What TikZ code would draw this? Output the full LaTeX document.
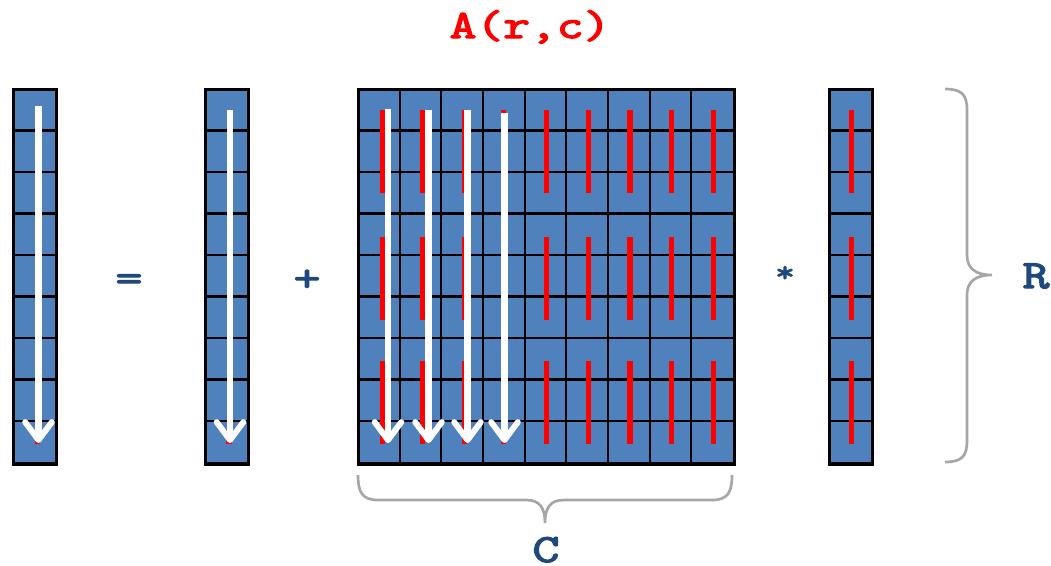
\documentclass[tikz,border=0pt]{standalone}
\usepackage{fontspec}
\newfontfamily\labfont[FakeBold=3]{Latin Modern Mono}
\newcommand{\lab}[1]{\scalebox{1.3}[1]{\labfont\bfseries #1}}
\usetikzlibrary{arrows.meta}
\definecolor{cellblue}{HTML}{4F81BD}
\definecolor{navy}{HTML}{1F497D}
\definecolor{bracegray}{HTML}{A6A6A6}
\begin{document}
\begin{tikzpicture}[x=0.75pt,y=-0.75pt,
  block/.style={draw=black,fill=cellblue,line width=1.5pt,anchor=north west,inner sep=0pt},
  gridline/.style={draw=black,line width=1.6pt},
  redseg/.style={draw=red,line width=3.8pt},
  warrow/.style={draw=white,line width=4.6pt,-{Straight Barb[length=13.5pt,width=20pt,line width=4.4pt,round]}},
  brace/.style={draw=bracegray,line width=2pt},
  lbl/.style={font=\fontsize{30}{30}\selectfont,text=navy,inner sep=0pt}]
\useasboundingbox (0,0) rectangle (1051,565);
% blocks
\node[block,minimum width=31.5pt,minimum height=280.1pt] (y1) at (13,89) {};
\node[block,minimum width=31.5pt,minimum height=280.1pt] (y2) at (205,89) {};
\node[block,minimum width=281.25pt,minimum height=280.1pt] (A) at (358,89) {};
\node[block,minimum width=31.5pt,minimum height=280.1pt] (x) at (829,89) {};
% grid lines
\foreach \r in {1,...,8}{
  \draw[gridline] ([yshift=-\r*31.12pt]y1.north west) -- ([yshift=-\r*31.12pt]y1.north east);
  \draw[gridline] ([yshift=-\r*31.12pt]y2.north west) -- ([yshift=-\r*31.12pt]y2.north east);
  \draw[gridline] ([yshift=-\r*31.12pt]A.north west) -- ([yshift=-\r*31.12pt]A.north east);
  \draw[gridline] ([yshift=-\r*31.12pt]x.north west) -- ([yshift=-\r*31.12pt]x.north east);
  \draw[gridline] ([xshift=\r*31.25pt]A.north west) -- ([xshift=\r*31.25pt]A.south west);
}
\draw[line width=1.6pt] (y1.north west) rectangle (y1.south east);
\draw[line width=1.6pt] (y2.north west) rectangle (y2.south east);
\draw[line width=1.6pt] (A.north west) rectangle (A.south east);
\draw[line width=1.6pt] (x.north west) rectangle (x.south east);
% red segments in A
\foreach \cx in {382.5,422.5,464.5,503.5,546.6,588.3,630,671.7,713.4}{
  \draw[redseg] (\cx,110) -- (\cx,193);
  \draw[redseg] (\cx,237) -- (\cx,320);
  \draw[redseg] (\cx,361) -- (\cx,444);
}
% red segments in x
\draw[redseg] (851.5,110) -- (851.5,193);
\draw[redseg] (851.5,237) -- (851.5,320);
\draw[redseg] (851.5,361) -- (851.5,444);
% red under arrows of y vectors
\draw[redseg] (37.5,430) -- (37.5,444);
\draw[redseg] (229,430) -- (229,444);
% white arrows
\coordinate (a1s) at (38.5,106); \coordinate (a1e) at (38.5,443);
\coordinate (a2s) at (230,110);  \coordinate (a2e) at (230,443);
\draw[warrow] (a1s) -- (a1e);
\draw[warrow] (a2s) -- (a2e);
\foreach \cx/\sy in {388/109,428.5/110,467.5/110,504.5/113}{
  \coordinate (as) at (\cx,\sy); \coordinate (ae) at (\cx,443);
  \draw[warrow] (as) -- (ae);
}
% braces
\draw[brace] (945,89) .. controls (962,89) and (967,95) .. (967,110) -- (967,255)
  .. controls (967,268) and (975,275) .. (992,275)
  .. controls (975,275) and (967,282) .. (967,295) -- (967,441)
  .. controls (967,456) and (962,462) .. (945,462);
\draw[brace] (358,475) .. controls (358,492) and (362,500) .. (378,500) -- (526,500)
  .. controls (540,500) and (545,508) .. (545,523)
  .. controls (545,508) and (550,500) .. (564,500) -- (712,500)
  .. controls (728,500) and (732,492) .. (732,475);
% labels
\node[lbl,text=red,anchor=base] (Arc) at (530,38) {\lab{A(r,c)}};
\node[lbl,anchor=base] (eq) at (129,291) {\lab{=}};
\node[lbl,anchor=base] (plus) at (307,291) {\lab{+}};
\node[lbl,font=\fontsize{22}{22}\selectfont] (times) at (785,274) {\lab{*}};
\node[lbl,anchor=base] (R) at (1036,288) {\lab{R}};
\node[lbl,anchor=base] (C) at (546,562) {\lab{C}};
\end{tikzpicture}
\end{document}
